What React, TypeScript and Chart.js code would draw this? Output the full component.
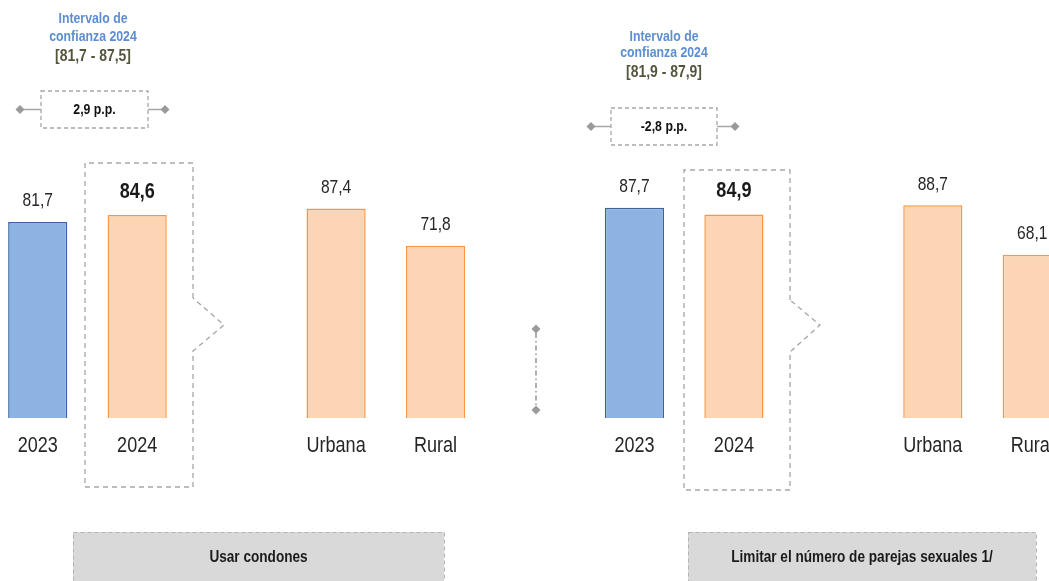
import React, { useEffect, useRef } from "react";
import { Chart, registerables } from "chart.js";

Chart.register(...registerables);

// ---------- data ----------
const categories = ["2023", "2024", "", "Urbana", "Rural", "", "2023", "2024", "", "Urbana", "Rural"];
const values: (number | null)[] = [81.7, 84.6, null, 87.4, 71.8, null, 87.7, 84.9, null, 88.7, 68.1];
const isPrevYear = [true, false, false, false, false, false, true, false, false, false, false];
const isHighlighted = [false, true, false, false, false, false, false, true, false, false, false];
const panelTitles = ["Usar condones", "Limitar el número de parejas sexuales 1/"];
const ciHeader = ["Intervalo de", "confianza 2024"];
const ciRanges = ["[81,7 - 87,5]", "[81,9 - 87,9]"];
const ppDiffs = ["2,9 p.p.", "-2,8 p.p."];

const FONT = "'Liberation Sans Narrow', 'Arial Narrow', 'Liberation Sans', Arial, sans-serif";
const NARROW = 0.82; // horizontal condensing to imitate a narrow face
const SHIFT = 12; // canvas is shifted left by this many px

const fmt = (v: number) => v.toFixed(1).replace(".", ",");

// page-coordinate layout for the decorations
const panelLayout = [
  {
    ciX: 93, ciY: [19, 37, 56],
    pp: { x0: 41, x1: 148, y0: 91, y1: 128, d0: 20, d1: 165 },
    hl: { x0: 85, x1: 193, y0: 163, y1: 487, cy0: 298, cy: 325, cy1: 351, tip: 224 },
    title: { x0: 73, x1: 444, y0: 532, ty: 558 },
  },
  {
    ciX: 664, ciY: [37, 53, 72],
    pp: { x0: 611, x1: 717, y0: 108, y1: 145, d0: 591, d1: 735 },
    hl: { x0: 684, x1: 790, y0: 170, y1: 490, cy0: 300, cy: 325, cy1: 352, tip: 820 },
    title: { x0: 688, x1: 1036, y0: 532, ty: 558 },
  },
];

function diamond(ctx: CanvasRenderingContext2D, x: number, y: number, r: number) {
  ctx.beginPath();
  ctx.moveTo(x, y - r);
  ctx.lineTo(x + r, y);
  ctx.lineTo(x, y + r);
  ctx.lineTo(x - r, y);
  ctx.closePath();
  ctx.fill();
}

function text(
  ctx: CanvasRenderingContext2D,
  s: string,
  x: number,
  y: number,
  font: string,
  color: string,
  sx = NARROW
) {
  ctx.save();
  ctx.translate(x, y);
  ctx.scale(sx, 1);
  ctx.font = font;
  ctx.fillStyle = color;
  ctx.textAlign = "center";
  ctx.textBaseline = "middle";
  ctx.fillText(s, 0, 0);
  ctx.restore();
}

const decorations = {
  id: "decorations",
  afterDatasetsDraw(chart: any) {
    const ctx: CanvasRenderingContext2D = chart.ctx;
    const xs = chart.scales.x;
    const ys = chart.scales.y;
    ctx.save();

    // category labels (drawn from the x scale, condensed)
    categories.forEach((_, i) => {
      const lab = xs.getLabelForValue(i);
      if (!lab) return;
      text(ctx, lab, xs.getPixelForValue(i), xs.top + 28, `22px ${FONT}`, "#262626");
    });

    // value labels
    values.forEach((v, i) => {
      if (v == null) return;
      const x = xs.getPixelForValue(i);
      const y = ys.getPixelForValue(v);
      if (isHighlighted[i]) text(ctx, fmt(v), x, y - 23, `bold 22px ${FONT}`, "#1a1a1a");
      else text(ctx, fmt(v), x, y - 21, `19px ${FONT}`, "#262626");
    });

    ctx.translate(SHIFT, 0);
    const grey = "#a6a6a6";

    panelLayout.forEach((L, p) => {
      // confidence interval text
      text(ctx, ciHeader[0], L.ciX, L.ciY[0], `bold 15px ${FONT}`, "#5b8ed2");
      text(ctx, ciHeader[1], L.ciX, L.ciY[1], `bold 15px ${FONT}`, "#5b8ed2");
      text(ctx, ciRanges[p], L.ciX, L.ciY[2], `bold 17px ${FONT}`, "#55553d");

      // p.p. box
      const pp = L.pp;
      const cy = (pp.y0 + pp.y1) / 2;
      ctx.strokeStyle = grey;
      ctx.lineWidth = 1.3;
      ctx.setLineDash([4, 3]);
      ctx.strokeRect(pp.x0, pp.y0, pp.x1 - pp.x0, pp.y1 - pp.y0);
      ctx.setLineDash([]);
      ctx.beginPath();
      ctx.moveTo(pp.d0, cy);
      ctx.lineTo(pp.x0, cy);
      ctx.moveTo(pp.x1, cy);
      ctx.lineTo(pp.d1, cy);
      ctx.stroke();
      ctx.fillStyle = "#9a9a9a";
      diamond(ctx, pp.d0, cy, 4.5);
      diamond(ctx, pp.d1, cy, 4.5);
      text(ctx, ppDiffs[p], (pp.x0 + pp.x1) / 2, cy, `bold 15px ${FONT}`, "#111");

      // highlight box with chevron
      const h = L.hl;
      ctx.strokeStyle = grey;
      ctx.lineWidth = 1.3;
      ctx.setLineDash([5, 4]);
      ctx.beginPath();
      ctx.moveTo(h.x1, h.cy0);
      ctx.lineTo(h.x1, h.y0);
      ctx.lineTo(h.x0, h.y0);
      ctx.lineTo(h.x0, h.y1);
      ctx.lineTo(h.x1, h.y1);
      ctx.lineTo(h.x1, h.cy1);
      ctx.lineTo(h.tip, h.cy);
      ctx.lineTo(h.x1, h.cy0);
      ctx.stroke();
      ctx.setLineDash([]);

      // title box
      const t = L.title;
      ctx.fillStyle = "#d9d9d9";
      ctx.fillRect(t.x0, t.y0, t.x1 - t.x0, 80);
      ctx.strokeStyle = "#b3b3b3";
      ctx.lineWidth = 1;
      ctx.setLineDash([4, 3]);
      ctx.strokeRect(t.x0 + 0.5, t.y0 + 0.5, t.x1 - t.x0, 80);
      ctx.setLineDash([]);
      text(ctx, panelTitles[p], (t.x0 + t.x1) / 2, t.ty, `bold 16px ${FONT}`, "#1a1a1a", 0.85);
    });

    // divider between panels
    ctx.strokeStyle = "#8c8c8c";
    ctx.lineWidth = 1.4;
    ctx.setLineDash([5, 3, 1.5, 3]);
    ctx.beginPath();
    ctx.moveTo(536, 333);
    ctx.lineTo(536, 406);
    ctx.stroke();
    ctx.setLineDash([]);
    ctx.fillStyle = "#9a9a9a";
    diamond(ctx, 536, 329, 4.5);
    diamond(ctx, 536, 410, 4.5);

    ctx.restore();
  },
};

export default function App() {
  const ref = useRef<HTMLCanvasElement>(null);
  useEffect(() => {
    if (!ref.current) return;
    const chart = new Chart(ref.current, {
      type: "bar",
      data: {
        labels: categories,
        datasets: [
          {
            data: values,
            backgroundColor: isPrevYear.map((b) => (b ? "#8db3e2" : "#fcd5b4")),
            borderColor: isPrevYear.map((b) => (b ? "#3a64a0" : "#f79646")),
            borderWidth: 1.5,
            barPercentage: 0.595,
            categoryPercentage: 1,
          },
        ],
      },
      options: {
        responsive: false,
        maintainAspectRatio: false,
        animation: false,
        layout: { padding: 0 },
        plugins: { legend: { display: false }, tooltip: { enabled: false } },
        scales: {
          x: {
            grid: { display: false, drawTicks: false },
            border: { display: false },
            ticks: { display: false, autoSkip: false },
            afterFit: (s: any) => {
              s.height = 163;
            },
          },
          y: { display: false, min: 0, max: 174.3 },
        },
      },
      plugins: [decorations],
    });
    return () => chart.destroy();
  }, []);

  return (
    <div style={{ position: "fixed", left: 0, top: 0, width: 1049, height: 581, overflow: "hidden", background: "#fff" }}>
      <canvas ref={ref} width={1094} height={581} style={{ position: "absolute", left: -SHIFT, top: 0 }} />
    </div>
  );
}
